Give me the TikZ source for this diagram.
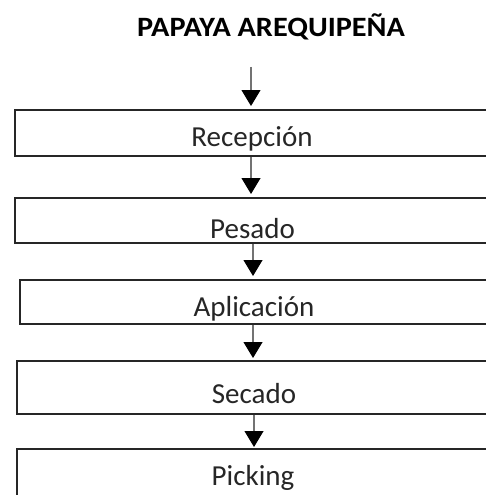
\documentclass[tikz,border=0pt]{standalone}
\usepackage{fontspec}
\setmainfont{Carlito}
\usetikzlibrary{arrows.meta}
\begin{document}
\begin{tikzpicture}[x=1pt,y=-1pt,
  stepbox/.style={draw=black!85,line width=1.8pt,rectangle,inner sep=0pt,anchor=north west},
  lbl/.style={anchor=base,inner sep=0pt,text=black!85,font=\fontsize{29}{31}\selectfont},
  flow/.style={draw=black!55,line width=1.2pt,-{Triangle[width=19pt,length=16pt,color=black]}}]
\clip (0,0) rectangle (486,495);
\fill[white] (0,0) rectangle (486,495);
\node[anchor=base,inner sep=0pt,xscale=1.08,font=\fontsize{28}{30}\selectfont\bfseries] (title) at (271,37) {PAPAYA AREQUIPEÑA};
\node[stepbox,minimum width=520pt,minimum height=46pt] (b1) at (14,109) {};
\node[stepbox,minimum width=520pt,minimum height=45pt] (b2) at (14,197) {};
\node[stepbox,minimum width=520pt,minimum height=44pt] (b3) at (19,279) {};
\node[stepbox,minimum width=520pt,minimum height=53pt] (b4) at (16,360) {};
\node[stepbox,minimum width=520pt,minimum height=80pt] (b5) at (16,448) {};
\node[lbl] (t1) at (252,146) {Recepción};
\node[lbl] (t2) at (252.5,238) {Pesado};
\node[lbl] (t3) at (254,316) {Aplicación};
\node[lbl] (t4) at (254,403) {Secado};
\node[lbl] (t5) at (253,485) {Picking};
\coordinate (a0) at (251,67);
\draw[flow,shorten >=3pt] (a0) -- (a0 |- b1.north);
\draw[flow,shorten >=3pt] (b1.south -| 251,0) -- (b2.north -| 251,0);
\draw[flow,shorten >=3pt] (b2.south -| 253,0) -- (b3.north -| 253,0);
\draw[flow,shorten >=2pt] (b3.south -| 253,0) -- (b4.north -| 253,0);
\draw[flow,shorten >=1pt] (b4.south -| 254,0) -- (b5.north -| 254,0);
\end{tikzpicture}
\end{document}
